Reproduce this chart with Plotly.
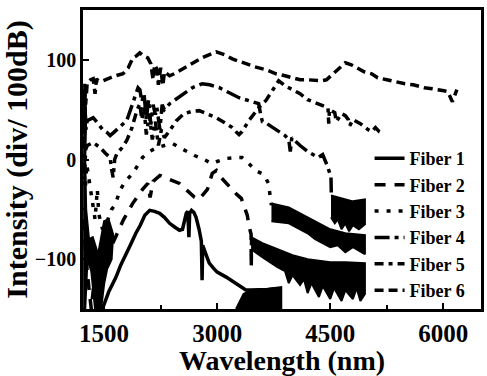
import plotly.graph_objects as go

# ---------------- data ----------------
f1_x = [1420, 1487, 1560, 1658, 1720, 1790, 1860, 1921, 1980, 2040, 2105, 2170, 2237, 2300, 2369, 2440, 2500, 2540, 2570, 2590, 2610, 2625, 2635, 2660, 2690, 2720, 2760, 2790, 2800, 2808, 2850, 2895, 2950, 3000, 3120, 3250, 3380, 3500, 3640, 3750, 3850]
f1_y = [-155, -148, -133, -118, -106, -94, -84, -74, -66, -56, -51, -52, -54, -58, -64, -68, -71, -70, -62, -54, -52, -78, -54, -51, -53, -58, -70, -82, -121, -86, -95, -104, -109, -113, -118, -125, -131, -131, -131, -130, -130]

f2_x = [1228, 1260, 1300, 1330, 1360, 1420, 1500, 1580, 1658, 1760, 1880, 1950, 2010, 2080, 2110, 2150, 2240, 2370, 2500, 2600, 2700, 2760, 2800, 2870, 2935, 2990, 3050, 3120, 3200, 3260, 3320, 3355, 3400, 3420, 3450, 3452, 3456]
f2_y = [-60, -100, -130, -150, -128, -115, -103, -90, -78, -60, -44, -36, -30, -24, -38, -22, -16, -20, -24, -31, -38, -40, -36, -30, -14, -11, -18, -24, -31, -35, -39, -46, -56, -66, -75, -108, -80]

f3_x = [1228, 1250, 1270, 1300, 1340, 1380, 1410, 1430, 1480, 1540, 1600, 1650, 1710, 1780, 1880, 2010, 2100, 2200, 2300, 2410, 2500, 2600, 2700, 2800, 2930, 3000, 3120, 3250, 3330, 3380, 3450, 3510, 3590, 3640, 3680, 3700, 3720]
f3_y = [-10, -30, -5, -20, -45, -60, -30, -55, -70, -62, -50, -45, -31, -22, -14, 2, 8, 12, 14, 16, 12, 8, 4, 1, -4, -2, 1, 2, 2, -1, -6, -11, -14, -18, -24, -34, -46]

f4_x = [1228, 1235, 1245, 1260, 1276, 1355, 1420, 1480, 1540, 1580, 1640, 1700, 1800, 1860, 1910, 1950, 1975, 2000, 2030, 2060, 2090, 2120, 2150, 2180, 2200, 2240, 2270, 2300, 2370, 2450, 2550, 2670, 2800, 2900, 3030, 3150, 3290, 3420, 3550, 3580, 3600, 3640, 3700, 3800, 3900, 3950, 3970, 3990, 4100, 4200, 4340, 4400, 4470, 4510, 4515]
f4_y = [70, 20, 55, 30, 39, 42, 36, 30, 27, 24, 28, 32, 39, 52, 62, 72, 70, 58, 66, 40, 60, 35, 55, 45, 52, 30, 55, 50, 56, 60, 66, 72, 76, 75, 72, 67, 62, 59, 56, 44, 38, 37, 34, 29, 24, 20, 8, 22, 14, 8, 2, 5, -8, -18, -38]

f5_x = [1228, 1240, 1255, 1276, 1355, 1447, 1520, 1579, 1600, 1620, 1640, 1670, 1740, 1800, 1870, 1934, 1974, 2000, 2030, 2060, 2100, 2140, 2180, 2220, 2260, 2300, 2360, 2460, 2560, 2650, 2760, 2900, 2987, 3100, 3200, 3260, 3290, 3330, 3420, 3553, 3645, 3740, 3816, 3900, 4000, 4100, 4200, 4300, 4400, 4470, 4480, 4490, 4560, 4580, 4650, 4700, 4740, 4760, 4800, 4900, 5000, 5050, 5100, 5150, 5200]
f5_y = [20, -20, 10, 14, 17, 12, 6, 2, -10, -18, 0, 6, 12, 19, 32, 49, 56, 40, 52, 25, 45, 20, 38, 14, 30, 22, 28, 39, 46, 48, 49, 45, 42, 37, 32, 27, 25, 28, 39, 52, 59, 70, 79, 74, 70, 66, 60, 57, 54, 52, 36, 50, 47, 38, 46, 44, 40, 34, 40, 36, 30, 28, 32, 28, 26]

f6_x = [1228, 1236, 1245, 1255, 1276, 1320, 1355, 1380, 1400, 1420, 1487, 1579, 1650, 1750, 1820, 1882, 1930, 1974, 2020, 2079, 2120, 2150, 2170, 2198, 2220, 2250, 2280, 2300, 2369, 2430, 2500, 2580, 2671, 2800, 2987, 3100, 3200, 3380, 3500, 3650, 3780, 3900, 4000, 4100, 4200, 4300, 4380, 4450, 4510, 4600, 4700, 4780, 4870, 4950, 5050, 5130, 5250, 5350, 5490, 5600, 5750, 5850, 5950, 6010, 6060, 6090, 6120, 6150, 6180]
f6_y = [62, 30, 70, 55, 77, 80, 81, 66, 81, 79, 79, 82, 84, 86, 92, 102, 104, 107, 104, 102, 96, 80, 95, 91, 75, 92, 74, 88, 84, 86, 89, 93, 97, 102, 108, 105, 101, 96, 93, 90, 86, 84, 82, 80, 80, 79, 79, 80, 84, 90, 97, 95, 91, 88, 86, 82, 80, 78, 76, 75, 72, 71, 70, 69, 68, 62, 58, 64, 70]

# noise-floor envelopes: upper edge (hi) and ragged lower edge (lo) of the black bands
f1_floor_hi_x = [3250, 3350, 3450, 3550, 3650, 3750, 3850]
f1_floor_hi = [-150, -135, -131, -130, -130, -129, -128]
f1_floor_lo_x = [3250, 3850]
f1_floor_lo = [-160, -160]

f2_floor_hi_x = [3450, 3600, 3800, 4000, 4200, 4500, 4700, 4960]
f2_floor_hi = [-78, -84, -90, -96, -100, -103, -103, -104]
f2_floor_lo_x = [3450, 3600, 3800, 3900, 3950, 4000, 4100, 4150, 4200, 4250, 4350, 4400, 4500, 4550, 4650, 4700, 4800, 4850, 4900, 4960]
f2_floor_lo = [-90, -98, -108, -112, -124, -116, -126, -120, -134, -124, -138, -127, -140, -129, -142, -131, -140, -129, -142, -135]

f3_floor_hi_x = [3720, 3950, 4200, 4500, 4700, 4960]
f3_floor_hi = [-44, -48, -58, -70, -74, -76]
f3_floor_lo_x = [3720, 3950, 4200, 4300, 4400, 4500, 4600, 4700, 4800, 4960]
f3_floor_lo = [-62, -64, -74, -80, -84, -88, -86, -93, -88, -95]

f4_floor_hi_x = [4510, 4600, 4700, 4800, 4960]
f4_floor_hi = [-36, -38, -40, -42, -40]
f4_floor_lo_x = [4510, 4560, 4600, 4650, 4700, 4750, 4800, 4880, 4960]
f4_floor_lo = [-58, -64, -60, -70, -64, -72, -66, -70, -65]

# dense overlapping noise at the short-wavelength edge
left_noise_x = [1222, 1250, 1262, 1250, 1262, 1300, 1350, 1420, 1500, 1560, 1620, 1600, 1540, 1500, 1460, 1380, 1330, 1280, 1250, 1222]
left_noise_y = [75, 75, 40, 0, -50, -80, -78, -95, -62, -60, -75, -100, -110, -125, -150, -150, -112, -100, -150, -150]

names = ["Fiber 1", "Fiber 2", "Fiber 3", "Fiber 4", "Fiber 5", "Fiber 6"]
dashes = ["solid", "11px,9px", "4px,8px", "15px,5px,4px,5px", "9px,5px,4px,5px", "9px,5px"]

# ---------------- figure ----------------
fig = go.Figure()
FF = "Liberation Serif"

def band(hx, hy, lx, ly):
    fig.add_trace(go.Scatter(x=hx + lx[::-1], y=hy + ly[::-1], fill="toself",
                             fillcolor="black", mode="lines",
                             line=dict(color="black", width=2),
                             showlegend=False, hoverinfo="skip"))

band(f1_floor_hi_x, f1_floor_hi, f1_floor_lo_x, f1_floor_lo)
band(f2_floor_hi_x, f2_floor_hi, f2_floor_lo_x, f2_floor_lo)
band(f3_floor_hi_x, f3_floor_hi, f3_floor_lo_x, f3_floor_lo)
band(f4_floor_hi_x, f4_floor_hi, f4_floor_lo_x, f4_floor_lo)
fig.add_trace(go.Scatter(x=left_noise_x, y=left_noise_y, fill="toself",
                         fillcolor="black", mode="lines",
                         line=dict(color="black", width=2),
                         showlegend=False, hoverinfo="skip"))

series = [(f1_x, f1_y), (f2_x, f2_y), (f3_x, f3_y), (f4_x, f4_y), (f5_x, f5_y), (f6_x, f6_y)]
for (x, y), n, d in zip(series, names, dashes):
    fig.add_trace(go.Scatter(x=x, y=y, mode="lines", name=n,
                             line=dict(color="black", width=3.5, dash=d)))

axis_common = dict(showline=True, mirror=True, linecolor="black", linewidth=2.5,
                   ticks="inside", tickwidth=2, ticklen=6, tickcolor="black",
                   showgrid=False, zeroline=False)

fig.update_xaxes(range=[1220, 6500], tickvals=[1500, 3000, 4500, 6000],
                 tickfont=dict(family=FF, size=25, color="black", weight="bold"),
                 title=dict(text="Wavelength (nm)", standoff=0,
                            font=dict(family=FF, size=28, color="black", weight="bold")),
                 minor=dict(tickvals=[2250, 3750, 5250], ticks="inside", ticklen=4, tickwidth=2, tickcolor="black"),
                 **axis_common)
fig.update_yaxes(range=[-150, 150], tickvals=[-100, 0, 100],
                 tickfont=dict(family=FF, size=20, color="black", weight="bold"),
                 title=dict(text="Intensity (div/ 100dB)", standoff=4,
                            font=dict(family=FF, size=30, color="black", weight="bold")),
                 minor=dict(tickvals=[-50, 50], ticks="inside", ticklen=4, tickwidth=2, tickcolor="black"),
                 **axis_common)

fig.update_layout(
    width=487, height=376,
    margin=dict(l=83, r=3, t=10, b=67),
    plot_bgcolor="white", paper_bgcolor="white",
    showlegend=True,
    legend=dict(x=0.72, y=0.565, xanchor="left", yanchor="top",
                bgcolor="rgba(0,0,0,0)", borderwidth=0,
                font=dict(family=FF, size=18, color="black", weight="bold"),
                itemwidth=30, tracegroupgap=0),
)
fig.write_html("out.html")
